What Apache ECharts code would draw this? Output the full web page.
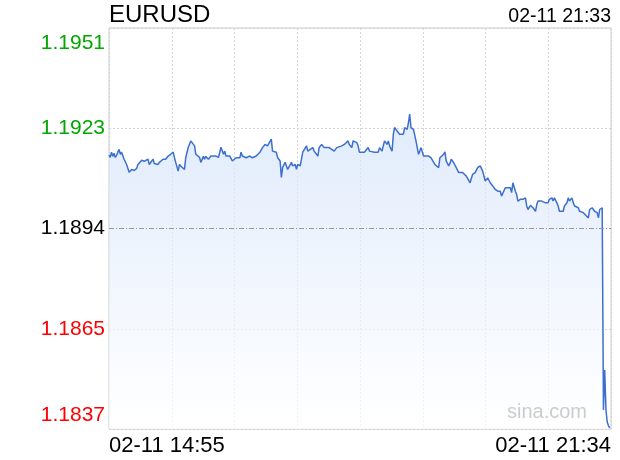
<!DOCTYPE html>
<html>
<head>
<meta charset="utf-8">
<style>html,body{margin:0;padding:0;background:#fff}#chart{width:620px;height:460px}</style>
<script src="https://cdn.jsdelivr.net/npm/echarts@6/dist/echarts.min.js"></script>
</head>
<body>
<div id="chart"></div>
<script>
var symbolName = 'EURUSD';
var dateStr = '02-11';
var lastUpdate = '02-11 21:33';
var startTime = '14:55';
var endTime = '21:34';
var prevClose = 1.1894;
var yMin = 1.1837;
var yMax = 1.1951;
var yTickLabels = ['1.1837', '1.1865', '1.1894', '1.1923', '1.1951'];

var times = [
  '14:55','14:56','14:57','14:58','14:59','15:00','15:01','15:02','15:03','15:04',
  '15:05','15:06','15:07','15:09','15:10','15:11','15:13','15:15','15:17','15:18',
  '15:21','15:23','15:26','15:27','15:30','15:31','15:34','15:35','15:38','15:40',
  '15:42','15:44','15:46','15:47','15:48','15:50','15:51','15:53','15:55','15:56',
  '15:58','16:00','16:01','16:03','16:04','16:07','16:08','16:10','16:11','16:12',
  '16:14','16:16','16:20','16:22','16:24','16:26','16:27','16:28','16:31','16:33',
  '16:36','16:39','16:40','16:41','16:44','16:47','16:49','16:52','16:55','16:57',
  '16:59','17:01','17:04','17:05','17:08','17:09','17:11','17:12','17:13','17:15',
  '17:17','17:20','17:21','17:23','17:24','17:25','17:27','17:29','17:32','17:33',
  '17:35','17:36','17:37','17:38','17:41','17:42','17:44','17:46','17:50','17:52',
  '17:53','17:54','17:56','18:00','18:02','18:05','18:06','18:08','18:09','18:12',
  '18:13','18:14','18:18','18:21','18:22','18:26','18:29','18:30','18:32','18:33',
  '18:34','18:36','18:37','18:38','18:40','18:41','18:42','18:44','18:46','18:49',
  '18:50','18:52','18:53','18:54','18:55','18:57','18:59','19:01','19:02','19:03',
  '19:05','19:09','19:11','19:14','19:15','19:17','19:18','19:21','19:22','19:23',
  '19:25','19:26','19:27','19:29','19:31','19:33','19:34','19:36','19:39','19:42',
  '19:43','19:44','19:46','19:48','19:50','19:51','19:52','19:54','19:55','19:56',
  '19:58','19:59','20:00','20:02','20:04','20:06','20:07','20:08','20:10','20:11',
  '20:14','20:15','20:16','20:18','20:19','20:20','20:22','20:23','20:24','20:26',
  '20:27','20:28','20:30','20:31','20:32','20:34','20:35','20:36','20:39','20:42',
  '20:43','20:44','20:45','20:47','20:48','20:49','20:51','20:52','20:53','20:56',
  '20:57','20:59','21:00','21:01','21:03','21:04','21:05','21:08','21:09','21:12',
  '21:13','21:16','21:17','21:19','21:21','21:23','21:24','21:25','21:27','21:28',
  '21:29','21:30','21:31','21:32','21:33'
];

var prices = [
  1.19149,1.19142,1.19157,1.19145,1.19154,1.19142,1.19148,1.19157,1.19165,1.19151,
  1.19157,1.19154,1.19137,1.19122,1.19120,1.19100,1.19108,1.19105,1.19111,1.19122,
  1.19134,1.19131,1.19137,1.19122,1.19137,1.19125,1.19122,1.19128,1.19137,1.19137,
  1.19146,1.19151,1.19157,1.19142,1.19128,1.19103,1.19122,1.19114,1.19108,1.19142,
  1.19171,1.19189,1.19189,1.19175,1.19151,1.19142,1.19128,1.19145,1.19137,1.19145,
  1.19137,1.19146,1.19146,1.19142,1.19171,1.19151,1.19160,1.19146,1.19146,1.19132,
  1.19141,1.19141,1.19157,1.19146,1.19141,1.19146,1.19141,1.19146,1.19157,1.19170,
  1.19179,1.19175,1.19194,1.19160,1.19157,1.19142,1.19132,1.19085,1.19114,1.19128,
  1.19108,1.19128,1.19118,1.19122,1.19108,1.19122,1.19118,1.19157,1.19175,1.19160,
  1.19165,1.19160,1.19170,1.19160,1.19146,1.19170,1.19179,1.19170,1.19170,1.19165,
  1.19170,1.19160,1.19170,1.19175,1.19179,1.19189,1.19179,1.19170,1.19189,1.19184,
  1.19175,1.19157,1.19157,1.19170,1.19160,1.19157,1.19157,1.19170,1.19160,1.19175,
  1.19189,1.19179,1.19189,1.19175,1.19160,1.19208,1.19227,1.19217,1.19208,1.19208,
  1.19227,1.19222,1.19241,1.19265,1.19227,1.19222,1.19189,1.19151,1.19160,1.19170,
  1.19146,1.19146,1.19141,1.19122,1.19127,1.19113,1.19141,1.19151,1.19158,1.19132,
  1.19118,1.19125,1.19137,1.19127,1.19113,1.19099,1.19103,1.19099,1.19089,1.19070,
  1.19075,1.19094,1.19099,1.19113,1.19118,1.19113,1.19103,1.19075,1.19080,1.19084,
  1.19070,1.19075,1.19061,1.19051,1.19046,1.19046,1.19032,1.19027,1.19056,1.19061,
  1.19056,1.19042,1.19070,1.19046,1.19037,1.19018,1.19023,1.19027,1.19023,1.19027,
  1.19004,1.18994,1.19006,1.19004,1.18999,1.18989,1.19008,1.19018,1.19018,1.19013,
  1.19018,1.19013,1.19023,1.19027,1.19018,1.19027,1.19013,1.19004,1.18989,1.18989,
  1.19004,1.19013,1.19027,1.19018,1.19027,1.19013,1.19004,1.18999,1.18989,1.18985,
  1.18980,1.18970,1.18994,1.18999,1.18989,1.18985,1.18970,1.18994,1.18999,1.18424,
  1.18538,1.18424,1.18390,1.18379,1.18373
];

var font = 'Arial, "Liberation Sans", Helvetica, sans-serif';

function toMin(t) {
  var p = t.split(':');
  return Number(p[0]) * 60 + Number(p[1]);
}

var t0 = toMin(startTime);
var span = toMin(endTime) - t0;
var yStep = (yMax - yMin) / 4;

var seriesData = times.map(function (t, i) {
  return [toMin(t) - t0, prices[i]];
});

var chart = echarts.init(document.getElementById('chart'), null, { renderer: 'canvas' });

chart.setOption({
  animation: false,
  title: [
    {
      text: symbolName, left: 109, top: 3, padding: 0,
      textStyle: { fontSize: 24, fontWeight: 'normal', color: '#000', fontFamily: font }
    },
    {
      text: lastUpdate, right: 9, top: 7, padding: 0,
      textStyle: { fontSize: 19.5, fontWeight: 'normal', color: '#000', fontFamily: font }
    },
    {
      text: 'sina.com', right: 33, top: 402, padding: 0,
      textStyle: { fontSize: 20, fontWeight: 'normal', color: '#cccccc', fontFamily: font }
    }
  ],
  grid: {
    left: 109, right: 9, top: 28, bottom: 31,
    show: true, borderColor: '#cccccc', borderWidth: 1
  },
  xAxis: {
    type: 'value',
    min: 0,
    max: span,
    interval: span / 8,
    axisLine: { show: false },
    axisTick: { show: false },
    splitLine: { show: true, lineStyle: { color: '#d4d4d4', type: [2, 2] } },
    axisLabel: {
      show: true,
      margin: 6,
      fontSize: 22,
      color: '#000',
      fontFamily: font,
      showMinLabel: true,
      showMaxLabel: true,
      alignMinLabel: 'left',
      alignMaxLabel: 'right',
      formatter: function (v) {
        if (Math.abs(v) < 0.01) return dateStr + ' ' + startTime;
        if (Math.abs(v - span) < 0.01) return dateStr + ' ' + endTime;
        return '';
      }
    }
  },
  yAxis: {
    type: 'value',
    min: yMin,
    max: yMax,
    interval: yStep,
    axisLine: { show: false },
    axisTick: { show: false },
    splitLine: {
      show: true,
      lineStyle: {
        color: ['#d4d4d4', '#d4d4d4', 'rgba(0,0,0,0)', '#d4d4d4', '#d4d4d4'],
        type: [2, 2]
      }
    },
    axisLabel: {
      margin: 4,
      fontSize: 21,
      fontFamily: font,
      formatter: function (v) {
        var k = Math.round((v - yMin) / yStep);
        var key = ['lo', 'dn', 'mid', 'up', 'hi'][k];
        return '{' + key + '|' + yTickLabels[k] + '}';
      },
      rich: {
        hi: { color: '#00a800', fontSize: 21, fontFamily: font, padding: [30, 0, 0, 0] },
        up: { color: '#00a800', fontSize: 21, fontFamily: font },
        mid: { color: '#000000', fontSize: 21, fontFamily: font },
        dn: { color: '#ff0000', fontSize: 21, fontFamily: font },
        lo: { color: '#ff0000', fontSize: 21, fontFamily: font, padding: [0, 0, 27, 0] }
      }
    }
  },
  series: [
    {
      type: 'line',
      data: seriesData,
      showSymbol: false,
      symbol: 'none',
      lineStyle: { color: '#3d6fcf', width: 1.5 },
      areaStyle: {
        color: new echarts.graphic.LinearGradient(0, 0, 0, 1, [
          { offset: 0, color: '#d3e2fa' },
          { offset: 1, color: '#ffffff' }
        ])
      },
      markLine: {
        silent: true,
        symbol: 'none',
        precision: 5,
        label: { show: false },
        lineStyle: { color: '#999999', type: [5, 2, 1, 2], width: 1 },
        data: [{ yAxis: prevClose }]
      }
    }
  ]
});
</script>
</body>
</html>
